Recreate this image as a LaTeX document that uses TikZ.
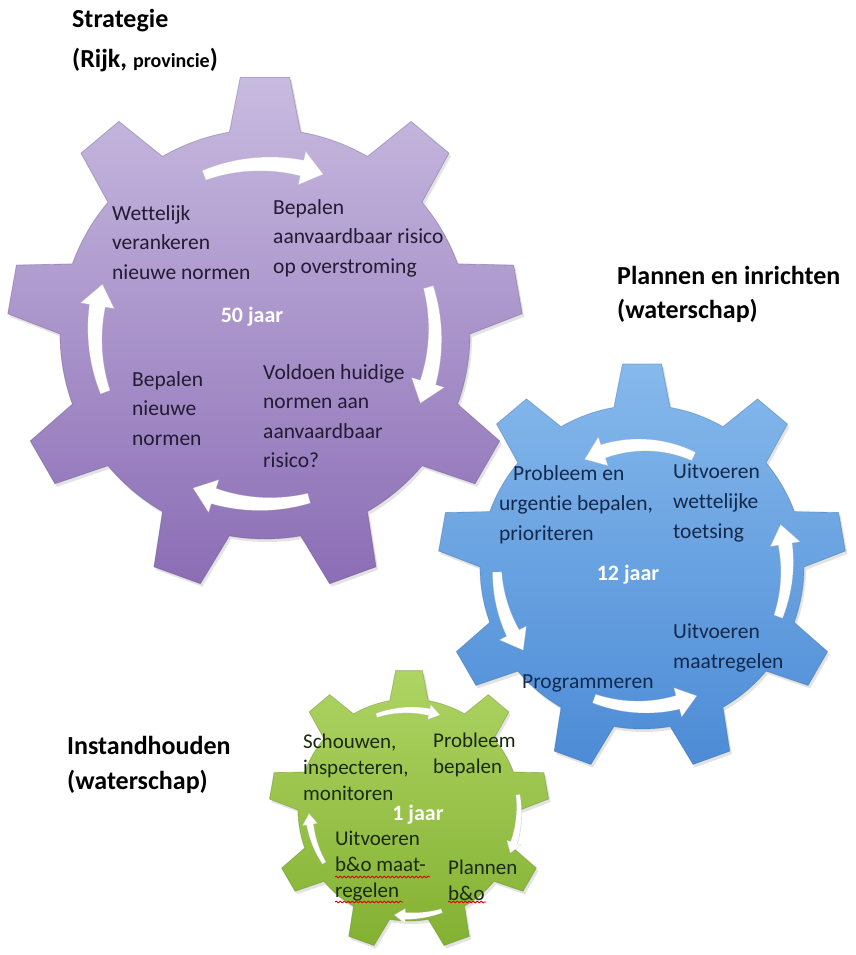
\documentclass[tikz,border=0pt]{standalone}
\usepackage{fontspec}
\setmainfont{Carlito}[Ligatures=NoCommon]
\usetikzlibrary{arrows.meta,shadows,decorations.pathmorphing}

\definecolor{pTop}{HTML}{C8BBE0}
\definecolor{pMid}{HTML}{A993CB}
\definecolor{pBot}{HTML}{8B6DB5}
\definecolor{bTop}{HTML}{86B9EC}
\definecolor{bMid}{HTML}{5C9CE1}
\definecolor{bBot}{HTML}{4C8BD6}
\definecolor{gTop}{HTML}{AED463}
\definecolor{gMid}{HTML}{98C445}
\definecolor{gBot}{HTML}{83B132}
\definecolor{pTxt}{HTML}{221B33}
\definecolor{bTxt}{HTML}{13294B}
\definecolor{gTxt}{HTML}{1B2A0E}

% gear outline: centre (#1,#2), tip radius #3, body radius #4, 9 teeth
\newcommand{\gearpath}[4]{%
  ([shift={(#1,#2)}]100:#4pt)
  \foreach \i in {0,...,8}{
    arc[start angle={100+40*\i}, end angle={120+40*\i}, radius=#4pt]
    -- ([shift={(#1,#2)}]{124.5+40*\i}:#3pt)
    -- ([shift={(#1,#2)}]{135.5+40*\i}:#3pt)
    -- ([shift={(#1,#2)}]{140+40*\i}:#4pt)
  } -- cycle}

% tapered curved block arrow:
% centre (#1,#2), radius #3, from angle #4 to tip angle #5,
% tail width #6, shaft width #7, head width #8, head length #9
\newcommand{\cyclearrow}[9]{%
  \pgfmathsetmacro\adir{ifthenelse(#5>#4,1,-1)}%
  \pgfmathsetmacro\ahead{#5-\adir*#9/#3*180/pi}%
  \fill[arrowfill, shift={(#1,#2)}]
    plot[domain=#4:\ahead, samples=24] (\x:{#3+(#6+(#7-#6)*(\x-#4)/(\ahead-#4))/2})
    -- (\ahead:{#3+#8/2}) -- (#5:#3) -- (\ahead:{#3-#8/2})
    -- plot[domain=\ahead:#4, samples=24] (\x:{#3-(#6+(#7-#6)*(\x-#4)/(\ahead-#4))/2})
    -- cycle;}

\tikzset{
  gearshadow/.style={drop shadow={opacity=0.22,shadow xshift=2pt,shadow yshift=-3pt}},
  gearP/.style={gearshadow, top color=pTop, middle color=pMid, bottom color=pBot, draw=pBot!70!black, draw opacity=0.35, line width=0.8pt},
  gearB/.style={gearshadow, top color=bTop, middle color=bMid, bottom color=bBot, draw=bBot!70!black, draw opacity=0.35, line width=0.8pt},
  gearG/.style={gearshadow, top color=gTop, middle color=gMid, bottom color=gBot, draw=gBot!70!black, draw opacity=0.35, line width=0.8pt},
  arrowfill/.style={fill=white, draw=black!25, draw opacity=0.5, line width=0.4pt},
  title/.style={anchor=west, inner sep=0pt, align=left, font=\bfseries\fontsize{26}{36}\selectfont},
  ptext/.style={anchor=west, inner sep=0pt, align=left, text=pTxt, font=\fontsize{21.5}{29.5}\selectfont},
  btext/.style={anchor=west, inner sep=0pt, align=left, text=bTxt, font=\fontsize{21.5}{30}\selectfont},
  gtext/.style={anchor=west, inner sep=0pt, align=left, text=gTxt, font=\fontsize{21}{26}\selectfont},
  years/.style={inner sep=0pt, text=white, font=\bfseries\fontsize{22}{26}\selectfont},
  spell/.style={draw=red!85!black, line width=0.8pt, decorate, decoration={snake, segment length=4pt, amplitude=0.9pt}}
}

\begin{document}
\begin{tikzpicture}[x=1pt,y=1pt]
\useasboundingbox[fill=white] (0,0) rectangle (855,955);

% ---------- purple gear: Strategie ----------
\path[gearP] \gearpath{265}{621}{258}{205};
\cyclearrow{265}{621}{170}{111}{70}{10}{16}{34}{22}
\cyclearrow{265}{621}{170}{16}{-24}{10}{16}{34}{22}
\cyclearrow{265}{621}{170}{-75}{-115}{10}{16}{34}{22}
\cyclearrow{265}{621}{170}{200}{163}{10}{16}{34}{22}
\node[ptext] (pW) at (112,712.5) {Wettelijk\\verankeren\\nieuwe normen};
\node[ptext] (pB) at (273,717) {Bepalen\\aanvaardbaar risico\\op overstroming};
\node[ptext] (pN) at (132,546.5) {Bepalen\\nieuwe\\normen};
\node[ptext] (pV) at (263,539) {Voldoen huidige\\normen aan\\aanvaardbaar\\risico?};
\node[years] (pY) at (252,638) {50 jaar};

% ---------- blue gear: Plannen en inrichten ----------
\path[gearB] \gearpath{642}{388}{204}{162};
\cyclearrow{642}{388}{122}{65}{118}{9}{14}{30}{20}
\cyclearrow{642}{388}{145}{182}{215}{9}{14}{30}{20}
\cyclearrow{642}{388}{140}{250}{293}{9}{14}{30}{20}
\cyclearrow{642}{388}{145}{-20}{17}{9}{14}{30}{20}
\node[btext] (bP) at (499,450) {\hspace*{14pt}Probleem en\\urgentie bepalen,\\prioriteren};
\node[btext] (bU) at (673,452) {Uitvoeren\\wettelijke\\toetsing};
\node[btext] (bM) at (673,307) {Uitvoeren\\maatregelen};
\node[btext] (bR) at (522,272) {Programmeren};
\node[years] (bY) at (628,380) {12 jaar};

% ---------- green gear: Instandhouden ----------
\path[gearG] \gearpath{409}{145}{140}{111};
\cyclearrow{409}{145}{100}{109}{72}{4}{7}{15}{11}
\cyclearrow{409}{145}{110}{8}{-23}{4}{7}{15}{11}
\cyclearrow{409}{145}{106}{-72}{-98}{4}{7}{15}{11}
\cyclearrow{409}{145}{100}{212}{182}{4}{7}{15}{11}
\node[gtext] (gS) at (303,187.5) {Schouwen,\\inspecteren,\\monitoren};
\node[gtext] (gP) at (433,200) {Probleem\\bepalen};
\node[gtext] (gU) at (335,88.5) {Uitvoeren\\b\&o maat-\\regelen};
\node[gtext] (gL) at (448,75) {Plannen\\b\&o};
\node[years] (gY) at (418,140) {1 jaar};
\coordinate (s1a) at (335,78);  \coordinate (s1b) at (430,78);
\coordinate (s2a) at (335,53);  \coordinate (s2b) at (403,53);
\coordinate (s3a) at (448,53);  \coordinate (s3b) at (486,53);
\draw[spell] (s1a) -- (s1b);
\draw[spell] (s2a) -- (s2b);
\draw[spell] (s3a) -- (s3b);

% ---------- titles ----------
\node[title, font=\bfseries\fontsize{26}{40}\selectfont] (tS) at (72,914) {Strategie\\(Rijk, {\fontsize{20}{40}\selectfont provincie})};
\node[title, font=\bfseries\fontsize{26}{34}\selectfont] (tP) at (617,661) {Plannen en inrichten\\(waterschap)};
\node[title, font=\bfseries\fontsize{26}{35}\selectfont] (tI) at (67,190.5) {Instandhouden\\(waterschap)};
\end{tikzpicture}
\end{document}
